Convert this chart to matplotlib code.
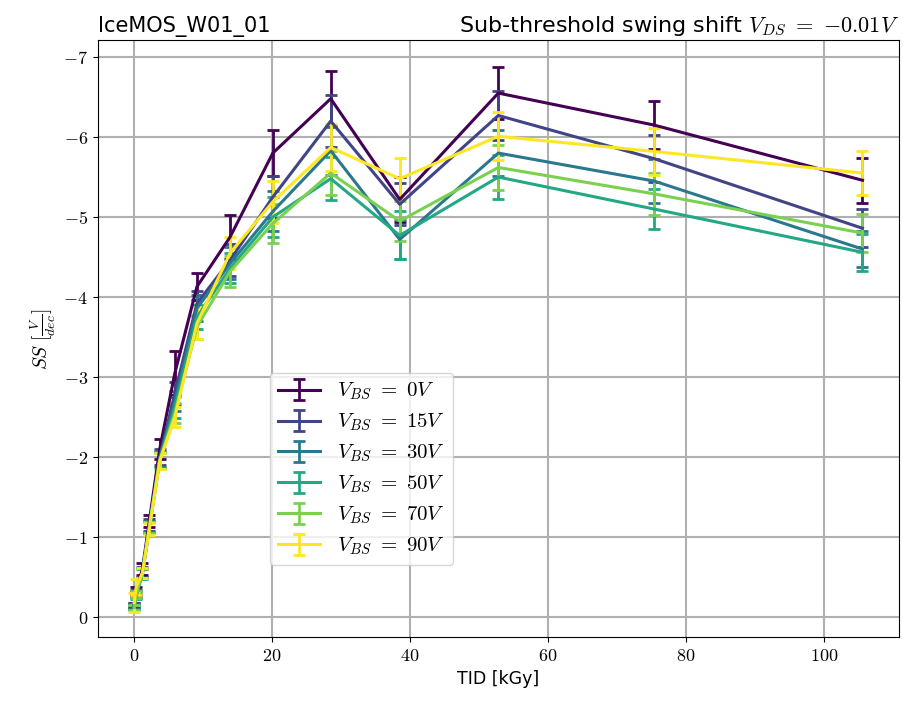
import matplotlib
matplotlib.use("Agg")
import matplotlib.pyplot as plt
from matplotlib.ticker import FuncFormatter
import numpy as np

plt.rcParams['mathtext.fontset'] = 'cm'
plt.rcParams['font.family'] = ['DejaVu Sans']

# TID dose points [kGy]
tid = [0, 0.3, 1.2, 2.2, 3.7, 5.9, 9.1, 13.9, 20.1, 28.5, 38.5, 52.8, 75.4, 105.6]

vbs_labels = ['0', '15', '30', '50', '70', '90']

ss_0 = [-0.15, -0.32, -0.60, -1.20, -2.10, -3.05, -4.13, -4.75, -5.80, -6.48, -5.22, -6.55, -6.15, -5.46]
ss_15 = [-0.14, -0.30, -0.56, -1.15, -2.00, -2.80, -3.92, -4.46, -5.25, -6.20, -5.16, -6.27, -5.73, -4.86]
ss_30 = [-0.13, -0.28, -0.55, -1.13, -1.98, -2.70, -3.86, -4.42, -5.07, -5.83, -4.72, -5.80, -5.45, -4.60]
ss_50 = [-0.12, -0.27, -0.54, -1.12, -1.96, -2.62, -3.75, -4.36, -5.00, -5.48, -4.77, -5.50, -5.10, -4.56]
ss_70 = [-0.12, -0.28, -0.55, -1.12, -1.95, -2.55, -3.63, -4.32, -4.92, -5.55, -4.95, -5.62, -5.29, -4.80]
ss_90 = [-0.18, -0.38, -0.55, -1.10, -1.95, -2.50, -3.67, -4.55, -5.19, -5.87, -5.48, -6.01, -5.82, -5.55]

err_0 = [0.03, 0.05, 0.07, 0.08, 0.12, 0.27, 0.17, 0.27, 0.29, 0.34, 0.28, 0.33, 0.30, 0.28]
err_15 = [0.03, 0.04, 0.06, 0.07, 0.10, 0.14, 0.16, 0.20, 0.26, 0.33, 0.26, 0.31, 0.29, 0.24]
err_30 = [0.03, 0.04, 0.06, 0.07, 0.10, 0.13, 0.16, 0.20, 0.25, 0.30, 0.24, 0.29, 0.27, 0.23]
err_50 = [0.03, 0.04, 0.06, 0.07, 0.10, 0.13, 0.15, 0.19, 0.25, 0.27, 0.30, 0.27, 0.25, 0.23]
err_70 = [0.03, 0.04, 0.06, 0.07, 0.10, 0.12, 0.15, 0.19, 0.24, 0.28, 0.25, 0.28, 0.26, 0.24]
err_90 = [0.12, 0.10, 0.06, 0.07, 0.10, 0.12, 0.20, 0.20, 0.26, 0.29, 0.26, 0.30, 0.29, 0.27]

series = [ss_0, ss_15, ss_30, ss_50, ss_70, ss_90]
errors = [err_0, err_15, err_30, err_50, err_70, err_90]
colors = plt.cm.viridis(np.linspace(0, 1, len(series)))

fig = plt.figure(figsize=(9.04, 7.07), dpi=100)
ax = fig.add_axes([0.108, 0.099, 0.8865, 0.844])

for ys, es, lab, c in zip(series, errors, vbs_labels, colors):
    ax.errorbar(tid, ys, yerr=es, color=c, lw=2.2, capsize=4, capthick=2,
                elinewidth=2, label=r'$V_{BS}\ =\ %sV$' % lab)

ax.set_xlim(-5.3, 110.9)
ax.set_ylim(0.25, -7.21)
ax.set_xticks([0, 20, 40, 60, 80, 100])
ax.set_yticks([0, -1, -2, -3, -4, -5, -6, -7])
fmt = FuncFormatter(lambda v, p: r'$%g$' % v)
ax.xaxis.set_major_formatter(fmt)
ax.yaxis.set_major_formatter(fmt)
ax.tick_params(labelsize=13)
ax.grid(True, color='#b0b0b0', lw=1.5)
ax.set_axisbelow(True)

ax.set_xlabel('TID [kGy]', fontsize=12.5)
ax.set_ylabel(r'$SS\ [\frac{V}{dec}]$', fontsize=14)
ax.set_title('IceMOS_W01_01', loc='left', fontsize=15)
ax.set_title(r'Sub-threshold swing shift $V_{DS}\ =\ {-0.01}V$', loc='right', fontsize=16)

ax.legend(loc='lower left', bbox_to_anchor=(0.215, 0.12), borderaxespad=0,
          fontsize=15, handlelength=2.0, labelspacing=0.45)

fig.savefig('out.png', dpi=100)
